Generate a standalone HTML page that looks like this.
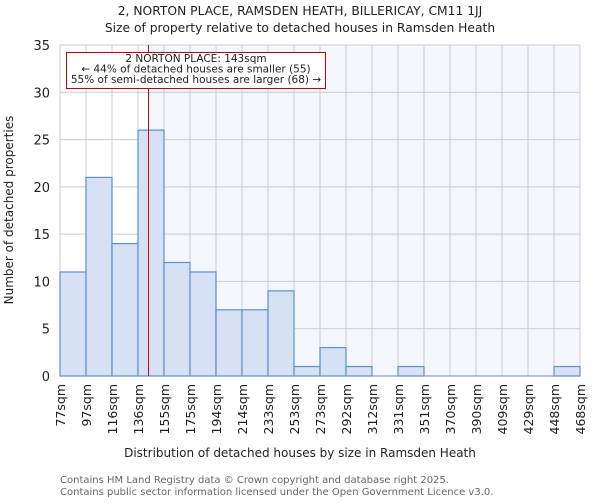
<!DOCTYPE html>
<html><head><meta charset="utf-8"><style>
body{margin:0;background:#fff;font-family:"DejaVu Sans","Liberation Sans",sans-serif;}
svg text{font-family:"DejaVu Sans","Liberation Sans",sans-serif;}
</style></head><body>
<svg id="chart" width="600" height="500" xmlns="http://www.w3.org/2000/svg">
<text x="300" y="15" text-anchor="middle" font-size="12.3" fill="#222">2, NORTON PLACE, RAMSDEN HEATH, BILLERICAY, CM11 1JJ</text>
<text x="300" y="32" text-anchor="middle" font-size="12.3" fill="#222">Size of property relative to detached houses in Ramsden Heath</text>
<g id="plot"></g>
<text x="300" y="457" text-anchor="middle" font-size="12" fill="#222">Distribution of detached houses by size in Ramsden Heath</text>
<text transform="translate(13,210) rotate(-90)" text-anchor="middle" font-size="12" fill="#222">Number of detached properties</text>
<text x="60" y="483" font-size="10" fill="#666">Contains HM Land Registry data © Crown copyright and database right 2025.</text>
<text x="60" y="495" font-size="10" fill="#666">Contains public sector information licensed under the Open Government Licence v3.0.</text>
</svg>
<script>
const binEdges=[77,97,116,136,155,175,194,214,233,253,273,292,312,331,351,370,390,409,429,448,468];
const counts=[11,21,14,26,12,11,7,7,9,1,3,1,0,1,0,0,0,0,0,1];
const yTicks=[0,5,10,15,20,25,30,35];
const propertySize=143;
const X0=60,X1=580,Y0=376,Y1=45,YMAX=35;
const nb=counts.length;
function xi(i){return X0+(X1-X0)*i/nb;}
function xv(v){let i=0;while(i<nb-1&&v>binEdges[i+1])i++;return xi(i)+(v-binEdges[i])/(binEdges[i+1]-binEdges[i])*(xi(1)-xi(0));}
function y(v){return Y0-(Y0-Y1)*v/YMAX;}
const NS="http://www.w3.org/2000/svg",g=document.getElementById('plot');
function mk(t,a){const e=document.createElementNS(NS,t);for(const k in a)e.setAttribute(k,a[k]);g.appendChild(e);return e;}
const px=Math.round(xv(propertySize))+0.5;
let e=mk('rect',{x:px,y:Y1,width:X1-px,height:Y0-Y1,fill:'#f4f7fe'});


yTicks.forEach(t=>{let l=mk('line',{x1:X0,x2:X1,y1:y(t),y2:y(t),stroke:'#ccc'});


let tx=mk('text',{x:X0-10,y:y(t)+5,'text-anchor':'end','font-size':13,fill:'#222'});tx.textContent=t;

});
binEdges.forEach((b,i)=>{let l=mk('line',{x1:xi(i),x2:xi(i),y1:Y1,y2:Y0,stroke:'#ccc'});


let tx=mk('text',{transform:`translate(${xi(i)+5},${Y0+8}) rotate(-90)`,'text-anchor':'end','font-size':12.5,fill:'#222'});tx.textContent=b+'sqm';

});
counts.forEach((c,i)=>{if(c<=0)return;let r=mk('rect',{x:xi(i),y:y(c),width:xi(i+1)-xi(i),height:Y0-y(c),fill:'#d6e1f3',stroke:'#5b8fd6','stroke-width':1.2});

});
e=mk('line',{x1:X0,x2:X1,y1:Y0,y2:Y0,stroke:'#5b8fd6','stroke-width':1});


e=mk('line',{x1:px,x2:px,y1:Y1,y2:Y0,stroke:'#dd0000','stroke-width':1});


e=mk('rect',{x:66.5,y:52.5,width:259,height:36,fill:'#fff',stroke:'#cc0000','stroke-width':1});


['2 NORTON PLACE: 143sqm','← 44% of detached houses are smaller (55)','55% of semi-detached houses are larger (68) →'].forEach((s,i)=>{let t=mk('text',{x:196,y:62+i*10.5,'text-anchor':'middle','font-size':10.5,fill:'#222'});t.textContent=s;

});
</script>
</body></html>
